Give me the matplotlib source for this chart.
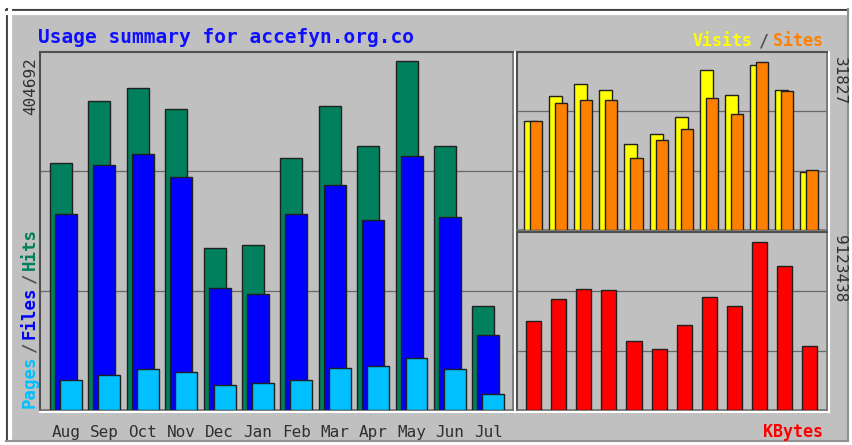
import matplotlib
matplotlib.use("Agg")
import numpy as np
import matplotlib.pyplot as plt
from matplotlib.patches import Rectangle
from matplotlib.lines import Line2D

# monthly usage figures, Aug .. Jul
months = ["Aug", "Sep", "Oct", "Nov", "Dec", "Jan", "Feb", "Mar", "Apr", "May", "Jun", "Jul"]
hits = [286500, 358300, 373400, 349000, 187900, 191300, 292200, 352500, 306100, 404692, 306100, 120600]
files = [227300, 284100, 296900, 270200, 141500, 134500, 227300, 260900, 220300, 294500, 223800, 87000]
pages = [34800, 40600, 47500, 44100, 29000, 31300, 34800, 48700, 51000, 60300, 47500, 18600]
visits = [20650, 25380, 27650, 26520, 16290, 18180, 21400, 30300, 25570, 31250, 26520, 10990]
sites = [20650, 24050, 24620, 24620, 13640, 17050, 19130, 25000, 21970, 31827, 26330, 11360]
kbytes = [4833000, 6028000, 6571000, 6517000, 3747000, 3313000, 4616000, 6137000, 5648000, 9123438, 7820000, 3476000]

BG = "#c0c0c0"
C_HITS, C_FILES, C_PAGES = "#00805c", "#0000ff", "#00c0ff"
C_VISITS, C_SITES, C_KB = "#ffff00", "#ff8000", "#ff0000"
MONO = "DejaVu Sans Mono"

W, H = 852, 445
fig = plt.figure(figsize=(W / 100, H / 100), dpi=100)
fig.patch.set_facecolor("white")


def fx(px):
    return px / W


def fy(py):
    return 1 - py / H


# outer bevelled frame
fig.patches.append(Rectangle((fx(7), fy(441)), fx(841), 432 / H, transform=fig.transFigure,
                             facecolor=BG, edgecolor="none", zorder=-2))
for (x0, y0, x1, y1, c, lw) in [(6, 9.5, 848, 9.5, "#404040", 1.5), (6.5, 9, 6.5, 441, "#404040", 1.5),
                                (8, 12.5, 846, 12.5, "white", 3), (9.5, 11, 9.5, 440, "white", 3),
                                (848, 9, 848, 441, "#909090", 1.5), (6, 440.5, 848, 440.5, "#909090", 1.5)]:
    fig.lines.append(Line2D([fx(x0), fx(x1)], [fy(y0), fy(y1)], transform=fig.transFigure,
                            color=c, lw=lw, zorder=-1))


def panel(rect_px):
    x0, y0, x1, y1 = rect_px
    ax = fig.add_axes([fx(x0), fy(y1), (x1 - x0) / W, (y1 - y0) / H])
    ax.set_facecolor(BG)
    for s in ["top", "left"]:
        ax.spines[s].set_color("#505050")
        ax.spines[s].set_linewidth(1.5)
    for s in ["bottom", "right"]:
        ax.spines[s].set_color("#707070")
        ax.spines[s].set_linewidth(1.2)
    # white highlight outside bottom/right
    fig.lines.append(Line2D([fx(x0), fx(x1 + 2)], [fy(y1 + 2), fy(y1 + 2)], transform=fig.transFigure,
                            color="white", lw=1.5, zorder=-1))
    fig.lines.append(Line2D([fx(x1 + 2), fx(x1 + 2)], [fy(y0), fy(y1 + 2)], transform=fig.transFigure,
                            color="white", lw=1.5, zorder=-1))
    ax.set_yticks([])
    ax.tick_params(axis="x", length=0)
    return ax


def grid(ax):
    top = ax.get_ylim()[1]
    for frac in (1 / 3, 2 / 3):
        ax.axhline(top * frac, color="#686868", lw=0.9, zorder=1)


x = np.arange(len(months))
edge = dict(edgecolor="#202020", linewidth=1, align="edge", zorder=3)

# left panel: hits / files / pages
ax1 = panel((40, 52, 513, 410))
ax1.bar(x, hits, 0.573, color=C_HITS, **edge)
ax1.bar(x + 0.13, files, 0.573, color=C_FILES, **edge)
ax1.bar(x + 0.26, pages, 0.573, color=C_PAGES, **edge)
ax1.set_xlim(-0.26, 12.06)
ax1.set_ylim(0, max(hits) * 1.026)
grid(ax1)
ax1.set_xticks(x + 0.42)
ax1.set_xticklabels(months, fontfamily=MONO, fontsize=11.5, color="#303030")
ax1.tick_params(axis="x", pad=11)

# top right: visits / sites
ax2 = panel((517, 52, 827, 230))
ax2.bar(x, visits, 0.52, color=C_VISITS, **edge)
ax2.bar(x + 0.24, sites, 0.48, color=C_SITES, **edge)
ax2.set_xlim(-0.28, 12.07)
ax2.set_ylim(0, max(visits + sites) * 1.059)
grid(ax2)
ax2.set_xticks([])

# bottom right: kbytes
ax3 = panel((517, 232, 827, 410))
ax3.bar(x + 0.08, kbytes, 0.6, color=C_KB, **edge)
ax3.set_xlim(-0.28, 12.07)
ax3.set_ylim(0, max(kbytes) * 1.06)
grid(ax3)
ax3.set_xticks([])

# texts
fig.text(fx(38), fy(43), "Usage summary for accefyn.org.co", fontfamily=MONO, fontweight="bold",
         fontsize=14, color="#1010ff", va="baseline", ha="left")


def advance(p, cw, slash_w):
    return slash_w * cw if p == "/" else len(p) * cw


def colored_row(pieces, x_right, y_base, size, slash_w=1.0):
    cw = size * 0.602 * 100 / 72
    n = sum(advance(p, cw, slash_w) for p, _ in pieces)
    xx = x_right - n
    for p, c in pieces:
        w = advance(p, cw, slash_w)
        fig.text(fx(xx + w / 2), fy(y_base), p, fontfamily=MONO, fontweight="bold", fontsize=size,
                 color=c, ha="center", va="baseline")
        xx += w


def colored_col(pieces, x_c, y_bottom, size, slash_w=1.0):
    cw = size * 0.602 * 100 / 72
    yy = y_bottom
    for p, c in pieces:
        w = advance(p, cw, slash_w)
        fig.text(fx(x_c), fy(yy - w / 2), p, fontfamily=MONO, fontweight="bold", fontsize=size,
                 color=c, ha="center", va="center", rotation=90)
        yy -= w


colored_row([("Visits", C_VISITS), ("/", "#505050"), ("Sites", C_SITES)], 823, 46, 12, 2.0)
colored_row([("KBytes", C_KB)], 823, 437, 12)
colored_col([("Pages", C_PAGES), ("/", "#505050"), ("Files", C_FILES), ("/", "#505050"),
             ("Hits", C_HITS)], 30, 408, 12.5, 1.6)

fig.text(fx(31), fy(57), str(max(hits)), fontfamily=MONO, fontsize=11.5, color="#303030",
         rotation=90, ha="center", va="top")
fig.text(fx(839), fy(57), str(max(visits + sites)), fontfamily=MONO, fontsize=11.5, color="#303030",
         rotation=-90, ha="center", va="top")
fig.text(fx(839), fy(235), str(max(kbytes)), fontfamily=MONO, fontsize=11.5, color="#303030",
         rotation=-90, ha="center", va="top")

plt.savefig("out.png", dpi=100, facecolor=fig.get_facecolor())
